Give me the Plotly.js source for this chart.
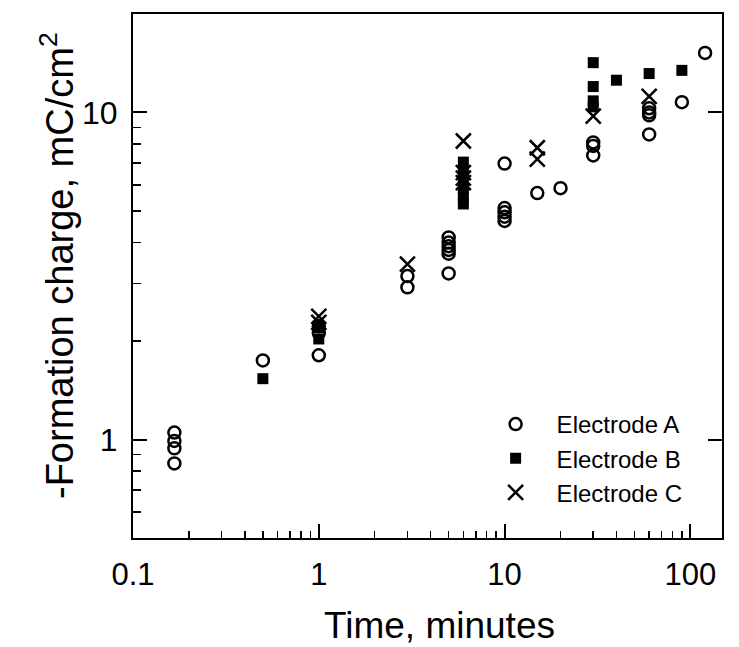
<!DOCTYPE html>
<html>
<head>
<meta charset="utf-8">
<script src="https://cdn.plot.ly/plotly-3.0.1.min.js"></script>
<style>html,body{margin:0;padding:0;background:#fff;}#chart{width:739px;height:647px;}</style>
</head>
<body>
<div id="chart"></div>
<script>
// Electrode A (open circles)
const timeA = [0.167,0.167,0.167,0.167, 0.5, 1,1,1, 3,3, 5,5,5,5,5,5, 10,10,10,10,10, 15, 20, 30,30,30, 60,60,60,60, 90, 120];
const chargeA = [1.05,0.99,0.94,0.845, 1.745, 1.81,2.12,2.22, 2.92,3.16, 3.22,3.7,3.8,3.9,4.0,4.15, 4.66,4.8,4.95,5.1,6.98, 5.67, 5.87, 7.39,7.9,8.1, 8.57,9.8,10.0,10.3, 10.75, 15.2];
// Electrode B (filled squares)
const timeB = [0.5, 1,1, 6,6,6,6,6,6, 30,30,30,30, 40, 60, 90];
const chargeB = [1.535, 2.03,2.2, 7.05,6.6,6.2,5.8,5.5,5.25, 14.2,12.0,10.85,10.4, 12.55, 13.15, 13.45];
// Electrode C (crosses)
const timeC = [1,1, 3, 6,6,6,6, 15,15, 30, 60];
const chargeC = [2.38,2.28, 3.44, 8.18,6.55,6.1,6.3, 7.8,7.2, 9.75, 11.2];

const names = ["Electrode A","Electrode B","Electrode C"];
const xTickVals = [0.1,1,10,100];
const xTickText = ["0.1","1","10","100"];
const yTickVals = [1,10];
const yTickText = ["1","10"];
const xTitle = "Time, minutes";
const yTitle = "-Formation charge, mC/cm<sup>2</sup>";

const xMinor = [];
for (let d = 0.1; d < 1000; d *= 10) for (let k = 2; k <= 9; k++) xMinor.push(+(d*k).toPrecision(3));
const yMinor = [];
for (let d = 0.1; d < 100; d *= 10) for (let k = 2; k <= 9; k++) yMinor.push(+(d*k).toPrecision(3));

const font = "Liberation Sans, Arial, sans-serif";

const traces = [
  {x: timeA, y: chargeA, name: names[0], type: "scatter", mode: "markers",
   marker: {symbol: "circle-open", size: 12, color: "black", line: {width: 2.5, color: "black"}}},
  {x: timeB, y: chargeB, name: names[1], type: "scatter", mode: "markers",
   marker: {symbol: "square", size: 11, color: "black", line: {width: 0}}},
  {x: timeC, y: chargeC, name: names[2], type: "scatter", mode: "markers",
   marker: {symbol: "x-thin-open", size: 15, color: "black", line: {width: 2.5, color: "black"}}},
  {x: [1], y: [1], yaxis: "y2", showlegend: false, hoverinfo: "skip", mode: "markers",
   marker: {opacity: 0}, type: "scatter"}
];

const xr = [Math.log10(0.1), Math.log10(148)];
const yr = [Math.log10(0.5), Math.log10(20)];

const layout = {
  width: 739, height: 647,
  margin: {l: 133, r: 17, t: 14, b: 109},
  paper_bgcolor: "white", plot_bgcolor: "white",
  font: {family: font, color: "black", size: 32},
  showlegend: true,
  legend: {x: 0.58, y: 0.044, xanchor: "left", yanchor: "bottom", bgcolor: "rgba(0,0,0,0)",
           itemwidth: 72,
           font: {size: 24, family: font, color: "black"}, tracegroupgap: 0},
  xaxis: {type: "log", range: xr, tickmode: "array", tickvals: xTickVals, ticktext: xTickText,
          ticks: "inside", ticklen: 14, tickwidth: 2, tickcolor: "black",
          showline: true, linewidth: 2, linecolor: "black", mirror: true,
          showgrid: false, zeroline: false, ticklabelstandoff: 8,
          tickfont: {size: 31, family: font, color: "black"},
          minor: {tickmode: "array", tickvals: xMinor, ticks: "inside", ticklen: 7, tickwidth: 1.5, tickcolor: "black", showgrid: false}},
  yaxis: {type: "log", range: yr, tickmode: "array", tickvals: yTickVals, ticktext: yTickText,
          ticks: "inside", ticklen: 14, tickwidth: 2, tickcolor: "black",
          showline: true, linewidth: 2, linecolor: "black", mirror: true,
          showgrid: false, zeroline: false, ticklabelstandoff: 7,
          tickfont: {size: 32, family: font, color: "black"},
          minor: {tickmode: "array", tickvals: yMinor, ticks: "inside", ticklen: 8, tickwidth: 1.5, tickcolor: "black", showgrid: false}},
  yaxis2: {type: "log", range: yr, overlaying: "y", side: "right", tickmode: "array", tickvals: yTickVals,
           showticklabels: false, ticks: "inside", ticklen: 14, tickwidth: 2, tickcolor: "black",
           showline: false, showgrid: false, zeroline: false},
  annotations: [
    {text: xTitle, xref: "paper", yref: "paper", x: (439-133)/589, y: (647-625-109)/524,
     xanchor: "center", yanchor: "middle", showarrow: false,
     font: {size: 37, family: font, color: "black"}},
    {text: yTitle, xref: "paper", yref: "paper", x: (57-133)/589, y: (538-266)/524,
     xanchor: "center", yanchor: "middle", showarrow: false, textangle: -90,
     font: {size: 38, family: font, color: "black"}}
  ]
};

Plotly.newPlot("chart", traces, layout, {displayModeBar: false, staticPlot: true});
</script>
</body>
</html>
